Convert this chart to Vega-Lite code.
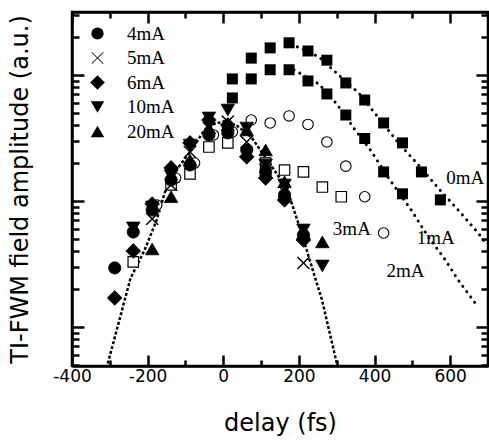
{
  "$schema": "https://vega.github.io/schema/vega-lite/v6.json",
  "width": 416,
  "height": 354,
  "autosize": "none",
  "padding": {"left": 72, "top": 12, "right": 1, "bottom": 79},
  "background": "white",
  "config": {
    "view": {"stroke": "black", "strokeWidth": 2.5},
    "axis": {
      "domainColor": "black", "domainWidth": 2.5, "tickColor": "black", "tickWidth": 2.5,
      "grid": false, "labelColor": "black", "titleColor": "black"
    }
  },
  "datasets": {
    "hc": [
      {"s": "4mA", "d": -287, "v": 2.94}, {"s": "4mA", "d": -238, "v": 5.67}, {"s": "4mA", "d": -188, "v": 8.48}, {"s": "4mA", "d": -138, "v": 14.7}, {"s": "4mA", "d": -88, "v": 19.3}, {"s": "4mA", "d": -38, "v": 33.4}, {"s": "4mA", "d": 12, "v": 34.7}, {"s": "4mA", "d": 62, "v": 25.4}, {"s": "4mA", "d": 112, "v": 17.0}, {"s": "4mA", "d": 162, "v": 11.2}, {"s": "4mA", "d": 212, "v": 5.37},
      {"s": "5mA", "d": -188, "v": 7.2}, {"s": "5mA", "d": -138, "v": 13.4}, {"s": "5mA", "d": -88, "v": 24.5}, {"s": "5mA", "d": -38, "v": 37.9}, {"s": "5mA", "d": 12, "v": 42.6}, {"s": "5mA", "d": 62, "v": 29.4}, {"s": "5mA", "d": 112, "v": 17.6}, {"s": "5mA", "d": 162, "v": 11.8}, {"s": "5mA", "d": 212, "v": 3.22},
      {"s": "6mA", "d": -287, "v": 1.70}, {"s": "6mA", "d": -238, "v": 4.01}, {"s": "6mA", "d": -188, "v": 9.46}, {"s": "6mA", "d": -138, "v": 18.3}, {"s": "6mA", "d": -88, "v": 28.9}, {"s": "6mA", "d": -38, "v": 43.9}, {"s": "6mA", "d": 12, "v": 40.1}, {"s": "6mA", "d": 62, "v": 22.4}, {"s": "6mA", "d": 112, "v": 15.2}, {"s": "6mA", "d": 162, "v": 10.2}, {"s": "6mA", "d": 212, "v": 4.90},
      {"s": "10mA", "d": -238, "v": 6.11}, {"s": "10mA", "d": -188, "v": 8.96}, {"s": "10mA", "d": -138, "v": 15.8}, {"s": "10mA", "d": -88, "v": 27.8}, {"s": "10mA", "d": -38, "v": 45.6}, {"s": "10mA", "d": 12, "v": 52.7}, {"s": "10mA", "d": 62, "v": 37.9}, {"s": "10mA", "d": 112, "v": 19.3}, {"s": "10mA", "d": 162, "v": 13.4}, {"s": "10mA", "d": 212, "v": 5.89}, {"s": "10mA", "d": 262, "v": 3.05},
      {"s": "20mA", "d": -188, "v": 4.16}, {"s": "20mA", "d": -138, "v": 10.8}, {"s": "20mA", "d": -88, "v": 21.1}, {"s": "20mA", "d": -38, "v": 37.9}, {"s": "20mA", "d": 12, "v": 40.1}, {"s": "20mA", "d": 62, "v": 36.6}, {"s": "20mA", "d": 112, "v": 25.4}, {"s": "20mA", "d": 162, "v": 14.2}, {"s": "20mA", "d": 212, "v": 5.57}, {"s": "20mA", "d": 262, "v": 4.73}
    ],
    "sq": [
      {"s": "0mA", "d": 24, "v": 93.0}, {"s": "0mA", "d": 74, "v": 136}, {"s": "0mA", "d": 124, "v": 164}, {"s": "0mA", "d": 174, "v": 180}, {"s": "0mA", "d": 224, "v": 155}, {"s": "0mA", "d": 274, "v": 131}, {"s": "0mA", "d": 324, "v": 86.4}, {"s": "0mA", "d": 374, "v": 63.3}, {"s": "0mA", "d": 424, "v": 41.6}, {"s": "0mA", "d": 474, "v": 28.9}, {"s": "0mA", "d": 524, "v": 17.0}, {"s": "0mA", "d": 574, "v": 10.2},
      {"s": "1mA", "d": 24, "v": 65.7}, {"s": "1mA", "d": 74, "v": 93.0}, {"s": "1mA", "d": 124, "v": 110}, {"s": "1mA", "d": 174, "v": 110}, {"s": "1mA", "d": 224, "v": 89.6}, {"s": "1mA", "d": 274, "v": 70.7}, {"s": "1mA", "d": 324, "v": 48.1}, {"s": "1mA", "d": 374, "v": 31.3}, {"s": "1mA", "d": 424, "v": 17.0}, {"s": "1mA", "d": 474, "v": 11.4}
    ],
    "osq": [
      {"s": "2mA", "d": -238, "v": 3.28}, {"s": "2mA", "d": -138, "v": 13.4}, {"s": "2mA", "d": -88, "v": 16.4}, {"s": "2mA", "d": -38, "v": 26.8}, {"s": "2mA", "d": 12, "v": 28.9}, {"s": "2mA", "d": 112, "v": 20.0}, {"s": "2mA", "d": 162, "v": 17.6}, {"s": "2mA", "d": 212, "v": 17.0}, {"s": "2mA", "d": 262, "v": 12.9}, {"s": "2mA", "d": 312, "v": 10.8}
    ],
    "oci": [
      {"s": "3mA", "d": -176, "v": 9.30}, {"s": "3mA", "d": -126, "v": 15.2}, {"s": "3mA", "d": -76, "v": 20.0}, {"s": "3mA", "d": -26, "v": 33.4}, {"s": "3mA", "d": 24, "v": 35.3}, {"s": "3mA", "d": 74, "v": 43.9}, {"s": "3mA", "d": 124, "v": 41.6}, {"s": "3mA", "d": 174, "v": 47.3}, {"s": "3mA", "d": 224, "v": 40.5}, {"s": "3mA", "d": 274, "v": 29.4}, {"s": "3mA", "d": 324, "v": 18.9}, {"s": "3mA", "d": 374, "v": 10.8}, {"s": "3mA", "d": 424, "v": 5.57}
    ],
    "fitHigh": [
      {"d": -316, "v": 0.394}, {"d": -305, "v": 0.518}, {"d": -245, "v": 2.45}, {"d": -208, "v": 4.08}, {"d": -176, "v": 7.07}, {"d": -155, "v": 11.6}, {"d": -124, "v": 17.6}, {"d": -84, "v": 25.4}, {"d": -50, "v": 36.6}, {"d": -24, "v": 40.8}, {"d": 5, "v": 43.1}, {"d": 37, "v": 39.4}, {"d": 74, "v": 32.2}, {"d": 129, "v": 18.6}, {"d": 166, "v": 12.9}, {"d": 187, "v": 8.48}, {"d": 213, "v": 4.90}, {"d": 226, "v": 3.59}, {"d": 261, "v": 1.64}, {"d": 300, "v": 0.518}, {"d": 311, "v": 0.394}
    ],
    "fitLow": [
      {"s": "0mA", "d": 180, "v": 176}, {"s": "0mA", "d": 253, "v": 139}, {"s": "0mA", "d": 305, "v": 100}, {"s": "0mA", "d": 358, "v": 72.0}, {"s": "0mA", "d": 411, "v": 45.6}, {"s": "0mA", "d": 463, "v": 28.9}, {"s": "0mA", "d": 516, "v": 19.3}, {"s": "0mA", "d": 568, "v": 12.7}, {"s": "0mA", "d": 621, "v": 8.48}, {"s": "0mA", "d": 674, "v": 5.57}, {"s": "0mA", "d": 697, "v": 4.48},
      {"s": "1mA", "d": 187, "v": 109.6}, {"s": "1mA", "d": 253, "v": 84.8}, {"s": "1mA", "d": 300, "v": 58.9}, {"s": "1mA", "d": 345, "v": 37.9}, {"s": "1mA", "d": 389, "v": 25.4}, {"s": "1mA", "d": 437, "v": 15.2}, {"s": "1mA", "d": 497, "v": 8.48}, {"s": "1mA", "d": 542, "v": 5.18}, {"s": "1mA", "d": 582, "v": 3.59}, {"s": "1mA", "d": 621, "v": 2.36}, {"s": "1mA", "d": 666, "v": 1.55}
    ],
    "labels": [
      {"t": "0mA", "d": 640, "v": 15.2}, {"t": "1mA", "d": 562, "v": 5.09}, {"t": "2mA", "d": 482, "v": 2.78}, {"t": "3mA", "d": 340, "v": 5.99}
    ]
  },
  "layer": [
    {
      "data": {"name": "fitHigh"},
      "mark": {"type": "line", "color": "black", "strokeWidth": 2.5, "strokeDash": [3, 2], "clip": true},
      "encoding": {
        "x": {"field": "d", "type": "quantitative", "scale": {"domain": [-400, 700], "nice": false, "zero": false},
          "axis": {"orient": "bottom", "values": [-400, -300, -200, -100, 0, 100, 200, 300, 400, 500, 600, 700],
            "labelExpr": "datum.value % 200 === 0 && datum.value < 700 ? '' + datum.value : ''",
            "tickSize": {"condition": {"test": "datum.value % 200 === 0", "value": -11}, "value": -6},
            "labelFont": "DejaVu Sans", "labelFontSize": 17, "labelPadding": 13, "labelFlush": false, "labelOverlap": false,
            "title": "delay (fs)", "titleFont": "DejaVu Sans", "titleFontSize": 24, "titleFontWeight": "normal", "titleY": 45, "titleBaseline": "top"}},
        "y": {"field": "v", "type": "quantitative", "scale": {"type": "log", "domain": [0.49, 316], "nice": false},
          "axis": {"orient": "left", "values": [0.5, 0.6, 0.7, 0.8, 0.9, 1, 2, 3, 4, 5, 6, 7, 8, 9, 10, 20, 30, 40, 50, 60, 70, 80, 90, 100, 200, 300],
            "labels": false,
            "tickSize": {"condition": {"test": "datum.value === 1 || datum.value === 10 || datum.value === 100", "value": -12}, "value": -7},
            "title": "TI-FWM field amplitude (a.u.)", "titleFont": "DejaVu Sans", "titleFontSize": 24, "titleFontWeight": "normal", "titleX": -45, "titleBaseline": "alphabetic"}}
      }
    },
    {
      "data": {"name": "fitLow"},
      "mark": {"type": "line", "color": "black", "strokeWidth": 3, "strokeDash": [0.1, 6.5], "strokeCap": "round", "clip": true},
      "encoding": {
        "detail": {"field": "s"},
        "x": {"field": "d", "type": "quantitative", "scale": {"domain": [-400, 700], "nice": false, "zero": false},
          "axis": {"orient": "top", "values": [-400, -300, -200, -100, 0, 100, 200, 300, 400, 500, 600, 700], "labels": false, "title": null,
            "tickSize": {"condition": {"test": "datum.value % 200 === 0", "value": -11}, "value": -6}}},
        "y": {"field": "v", "type": "quantitative", "scale": {"type": "log", "domain": [0.49, 316], "nice": false},
          "axis": {"orient": "right", "values": [0.5, 0.6, 0.7, 0.8, 0.9, 1, 2, 3, 4, 5, 6, 7, 8, 9, 10, 20, 30, 40, 50, 60, 70, 80, 90, 100, 200, 300], "labels": false, "title": null,
            "tickSize": {"condition": {"test": "datum.value === 1 || datum.value === 10 || datum.value === 100", "value": -12}, "value": -7}}}
      }
    },
    {
      "data": {"name": "oci"},
      "mark": {"type": "point", "shape": "circle", "filled": true, "fill": "white", "stroke": "black", "strokeWidth": 1.1, "size": 110, "opacity": 1},
      "encoding": {
        "x": {"field": "d", "type": "quantitative", "axis": null},
        "y": {"field": "v", "type": "quantitative", "axis": null}
      }
    },
    {
      "data": {"name": "osq"},
      "mark": {"type": "point", "shape": "square", "filled": true, "fill": "white", "stroke": "black", "strokeWidth": 1.2, "size": 110, "opacity": 1},
      "encoding": {
        "x": {"field": "d", "type": "quantitative", "axis": null},
        "y": {"field": "v", "type": "quantitative", "axis": null}
      }
    },
    {
      "data": {"name": "hc"},
      "mark": {"type": "point", "filled": true, "color": "black", "stroke": "black", "strokeWidth": 0.8, "size": 150, "opacity": 1},
      "encoding": {
        "x": {"field": "d", "type": "quantitative", "axis": null},
        "y": {"field": "v", "type": "quantitative", "axis": null},
        "shape": {"field": "s", "type": "nominal",
          "scale": {"domain": ["4mA", "5mA", "6mA", "10mA", "20mA"], "range": ["circle", "M-1,-0.9L-0.9,-1L0,-0.1L0.9,-1L1,-0.9L0.1,0L1,0.9L0.9,1L0,0.1L-0.9,1L-1,0.9L-0.1,0Z", "M-1.2,0L0,-1.2L1.2,0L0,1.2Z", "M-1.1,-0.95L1.1,-0.95L0,0.95Z", "M-1.1,0.95L1.1,0.95L0,-0.95Z"]},
          "legend": {"orient": "none", "legendX": 16, "legendY": 12, "title": null, "padding": 0,
            "labelFont": "Liberation Serif", "labelFontSize": 19, "labelColor": "black", "labelOffset": 20,
            "symbolSize": 150, "symbolFillColor": "black", "symbolStrokeColor": "black", "symbolStrokeWidth": 0.8, "rowPadding": 4.5,
            "symbolOpacity": 1}}
      }
    },
    {
      "data": {"name": "sq"},
      "mark": {"type": "point", "shape": "square", "filled": true, "color": "black", "size": 121, "opacity": 1},
      "encoding": {
        "x": {"field": "d", "type": "quantitative", "axis": null},
        "y": {"field": "v", "type": "quantitative", "axis": null}
      }
    },
    {
      "data": {"name": "labels"},
      "mark": {"type": "text", "font": "Liberation Serif", "fontSize": 19, "color": "black", "align": "center", "baseline": "middle"},
      "encoding": {
        "x": {"field": "d", "type": "quantitative", "axis": null},
        "y": {"field": "v", "type": "quantitative", "axis": null},
        "text": {"field": "t"}
      }
    }
  ],
  "resolve": {"axis": {"x": "independent", "y": "independent"}}
}
